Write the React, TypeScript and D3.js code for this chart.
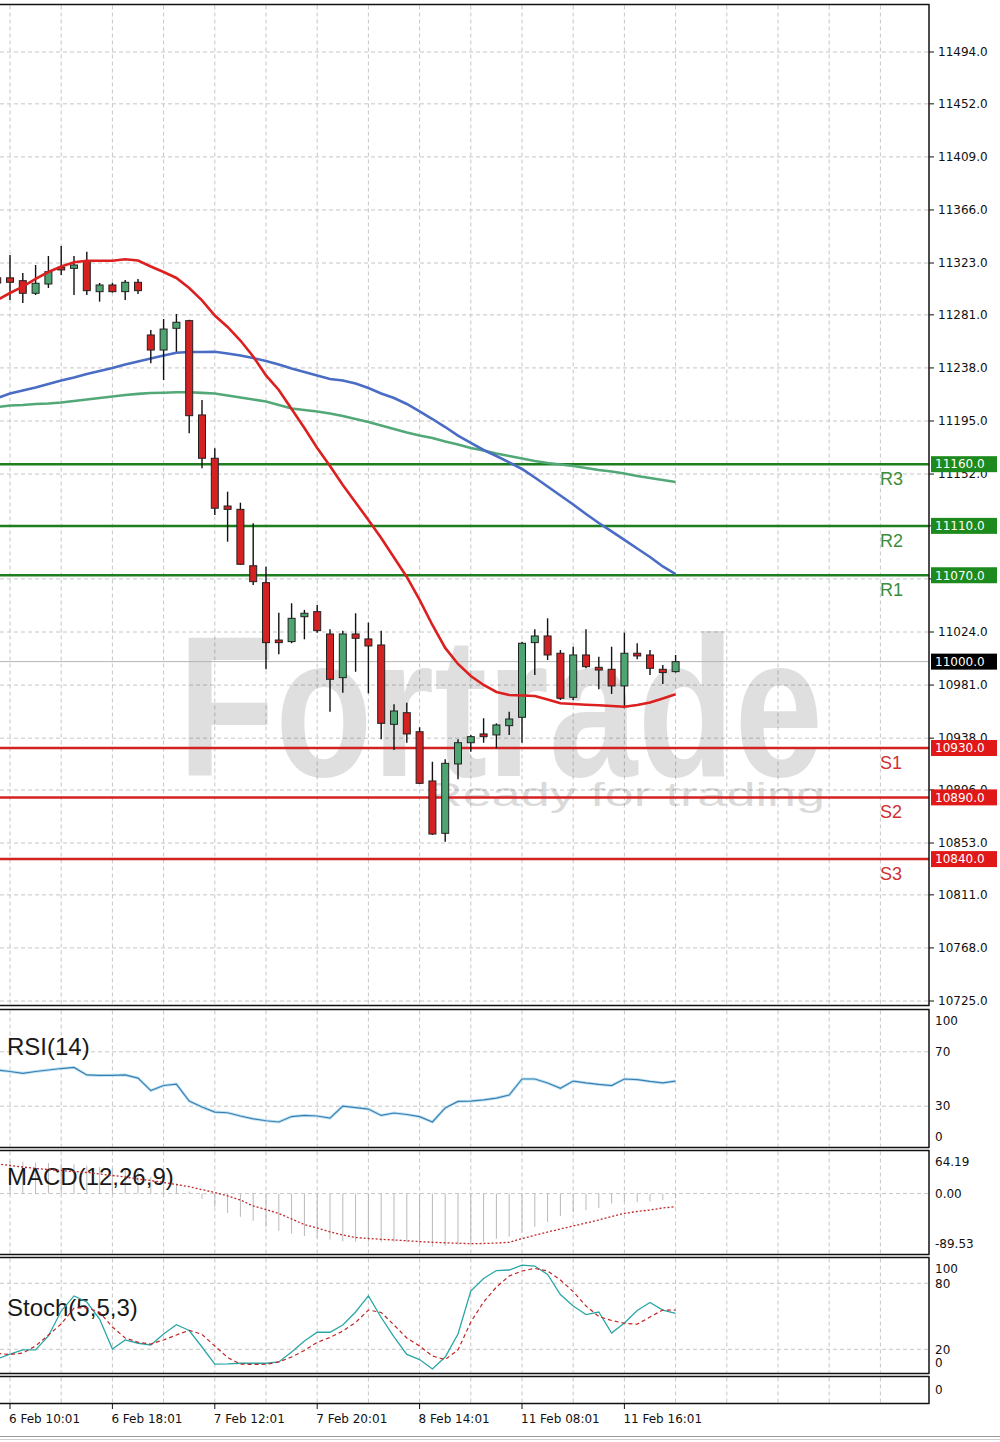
import React from 'react';
import * as d3 from 'd3';

// ---------- DATA ----------
const candleOpen = [11311, 11311, 11308.7, 11298.5, 11306, 11319.5, 11318.7, 11324.9, 11299.8, 11305.2, 11299.8, 11307.4, 11264.7, 11252.5, 11270.1, 11276.3, 11199.9, 11164.8, 11126.1, 11123.4, 11077.7, 11064, 11017.5, 11016.2, 11036.4, 11040.5, 11022.4, 10987, 11022.4, 11018.4, 11013.5, 10949.2, 10958.6, 10943.2, 10903.3, 10860.9, 10917.1, 10934.3, 10941.4, 10940.6, 10948.1, 10954.9, 11015.4, 11020.8, 11006.8, 10971.1, 11005.4, 10995.4, 10993.8, 10980.3, 11006.8, 11005.4, 10993.8, 10991.9];
const candleHigh = [11315.7, 11329.5, 11314.9, 11321.4, 11328.7, 11336.8, 11328.7, 11332.2, 11306.8, 11307, 11309.2, 11310.1, 11268.7, 11277.6, 11281.7, 11277, 11212, 11172.9, 11137.7, 11128.8, 11112.1, 11076.9, 11039.7, 11047.3, 11041.9, 11045.9, 11026.2, 11025.1, 11039.2, 11031.6, 11025.1, 10965.4, 10966.7, 10946.8, 10918.9, 10920.9, 10937.1, 10940.6, 10954.1, 10950, 10959.4, 11016.2, 11026.2, 11035.1, 11009.4, 11012.1, 11026.2, 11004, 11012.1, 11023.5, 11014.9, 11009.4, 10997.3, 11005.4];
const candleLow = [11301.1, 11293, 11290.6, 11297.1, 11302.8, 11313.3, 11297.1, 11297.1, 11291.7, 11299, 11293, 11297.9, 11241.7, 11228.2, 11251.1, 11185, 11156.7, 11118.8, 11097.2, 11078.3, 11062.1, 10993.8, 11006, 11014.9, 11018.1, 11023.5, 10959.4, 10974.8, 10991.8, 10974.3, 10937.1, 10928.4, 10934.3, 10900.8, 10859.5, 10854.1, 10904.7, 10927, 10934.3, 10929.8, 10940.6, 10934.3, 10989.2, 11001.3, 10968.9, 10968.9, 10994.6, 10977.6, 10973.8, 10962.2, 11001.9, 10989.2, 10981.9, 10991.1];
const candleClose = [11306.8, 11307.4, 11298.5, 11306.6, 11316, 11317.4, 11321.4, 11300.6, 11305.2, 11299.8, 11307.4, 11300.6, 11252.5, 11269.5, 11275, 11199.3, 11164.8, 11124.3, 11123.4, 11078.9, 11064.8, 11015.4, 11015.4, 11035.1, 11039.2, 11025.1, 10985.7, 11022.4, 11018.9, 11012.7, 10950, 10960, 10941.4, 10901.4, 10860.3, 10917.6, 10934.3, 10939.2, 10939.2, 10948.7, 10953.5, 11014.9, 11020.8, 11005.4, 10970.3, 11005.4, 10995.9, 10993.2, 10980.3, 11006.8, 11004.6, 10994.6, 10991.1, 11000];

const maFast = [11293.0, 11298.7, 11303.8, 11310.1, 11315.7, 11320.2, 11323.6, 11324.9, 11324.9, 11324.9, 11326.0, 11325.0, 11320.2, 11315.7, 11310.9, 11302.8, 11292.8, 11280.5, 11271.2, 11260.2, 11247.3, 11231.9, 11220.1, 11204.7, 11189.3, 11173.1, 11158.5, 11143.1, 11129.0, 11114.8, 11100.2, 11084.4, 11068.6, 11050.0, 11029.7, 11011.1, 10998.1, 10988.4, 10981.1, 10975.4, 10973.0, 10972.6, 10972.2, 10969.3, 10966.3, 10965.7, 10965.1, 10964.6, 10964.1, 10963.5, 10964.9, 10966.9, 10970.1, 10973.5];
const maMid = [11213.6, 11217.3, 11219.7, 11222.1, 11225.0, 11227.8, 11230.2, 11233.1, 11235.5, 11237.9, 11240.8, 11243.2, 11245.6, 11248.1, 11250.3, 11250.9, 11250.9, 11251.1, 11249.7, 11248.1, 11246.0, 11243.6, 11240.8, 11237.5, 11234.7, 11231.9, 11229.0, 11227.8, 11225.4, 11221.7, 11217.3, 11213.6, 11208.8, 11202.7, 11196.6, 11190.1, 11183.2, 11177.2, 11171.5, 11166.6, 11161.4, 11156.1, 11149.2, 11141.9, 11134.6, 11127.3, 11119.6, 11112.3, 11105.5, 11098.6, 11091.7, 11084.8, 11077.1, 11071.0];
const maSlow = [11206.3, 11207.6, 11208.0, 11208.8, 11209.2, 11210.0, 11211.2, 11212.4, 11213.6, 11214.8, 11216.1, 11217.0, 11217.7, 11217.9, 11218.3, 11218.3, 11217.8, 11217.3, 11215.7, 11214.0, 11212.4, 11210.8, 11208.0, 11205.1, 11203.9, 11202.7, 11201.1, 11199.0, 11196.6, 11194.2, 11191.4, 11188.5, 11185.7, 11183.2, 11181.2, 11178.4, 11176.0, 11173.1, 11171.1, 11168.7, 11166.6, 11164.6, 11162.6, 11161.0, 11159.7, 11158.5, 11156.9, 11155.3, 11154.1, 11152.5, 11150.4, 11148.8, 11147.2, 11145.6];

const rsiValues = [56.6, 55.5, 54.2, 55.5, 56.6, 57.7, 58.5, 53.0, 52.6, 52.7, 53.0, 50.7, 41.5, 45.2, 46.3, 33.8, 29.4, 25.7, 25.2, 22.8, 20.7, 19.3, 18.4, 22.4, 23.2, 22.8, 21.2, 30.1, 29.0, 27.9, 23.2, 25.0, 23.9, 22.3, 18.4, 28.7, 33.5, 33.8, 34.6, 36.0, 38.2, 50.0, 50.0, 47.1, 43.2, 48.5, 47.1, 46.0, 45.2, 50.0, 49.6, 48.2, 47.1, 48.5];

const macdHist = [50, 49, 48, 47, 46, 45, 44, 42, 40, 38, 36, 33, 25, 20, 15, 3, -8, -20, -29, -35, -41, -50, -56, -60, -64, -67, -69.5, -72, -72.5, -72.5, -72.8, -73, -73.4, -77, -80, -79, -77.5, -75, -72.5, -68, -65, -59, -50, -43, -34, -28, -25, -22, -15, -12, -13, -12, -10, -7];
const macdSignal = [44.6, 42.4, 40.1, 37.8, 36.3, 34.8, 33.3, 31.8, 29.5, 27.3, 25.0, 22.0, 19.7, 16.7, 13.7, 10.4, 5.9, 1.7, -3.6, -9.6, -18.7, -24.0, -30.0, -38.3, -46.6, -51.8, -57.6, -62.4, -66.2, -67.7, -68.9, -69.9, -71.1, -72.3, -73.4, -74.2, -74.8, -75.5, -75.2, -74.5, -73.4, -67.7, -62.7, -57.9, -53.4, -48.8, -44.3, -39.8, -34.5, -29.7, -27.0, -24.7, -21.7, -19.7];

const stochMain = [11.2, 15.7, 19.4, 19.4, 32.1, 54.8, 68.5, 63.0, 47.5, 20.3, 28.5, 25.5, 23.9, 33.9, 42.4, 37.1, 22.1, 6.6, 6.8, 7.3, 7.3, 7.3, 8.5, 17.5, 27.5, 35.5, 35.5, 42.1, 53.9, 68.5, 48.9, 31.2, 15.3, 10.7, 2.1, 13.0, 33.9, 73.0, 84.4, 91.6, 92.1, 96.6, 95.7, 88.0, 69.8, 59.4, 51.6, 53.9, 34.8, 43.9, 55.3, 62.5, 55.7, 52.7];
const stochSignal = [16.2, 15.3, 16.6, 23.0, 33.0, 43.0, 57.5, 57.8, 53.6, 40.3, 30.3, 26.4, 24.8, 28.5, 33.0, 37.3, 33.5, 23.0, 12.5, 6.6, 6.2, 6.4, 8.5, 13.0, 18.9, 26.4, 30.7, 36.6, 44.4, 55.7, 53.5, 42.1, 30.3, 23.0, 13.9, 10.7, 19.4, 44.8, 63.0, 76.6, 86.6, 91.2, 93.5, 91.2, 83.0, 72.5, 59.4, 49.8, 46.2, 43.7, 42.8, 49.4, 55.7, 55.7];

const priceTicks = [11494, 11452, 11409, 11366, 11323, 11281, 11238, 11195, 11152, 11110, 11067, 11024, 10981, 10938, 10896, 10853, 10811, 10768, 10725];
const resistanceLevels = [11160, 11110, 11070];
const resistanceNames = ['R3', 'R2', 'R1'];
const supportLevels = [10930, 10890, 10840];
const supportNames = ['S1', 'S2', 'S3'];
const currentPrice = 11000;

const rsiTicks = [100, 70, 30, 0];
const rsiGrid = [70, 30];
const macdTicks = [64.19, 0, -89.53];
const macdTickLabels = ['64.19', '0.00', '-89.53'];
const stochTicks = [100, 80, 20, 0];
const stochGrid = [80, 20];

const timeLabels = ['6 Feb 10:01', '6 Feb 18:01', '7 Feb 12:01', '7 Feb 20:01', '8 Feb 14:01', '11 Feb 08:01', '11 Feb 16:01'];
const timeLabelIndex = [1, 9, 17, 25, 33, 41, 49];

// ---------- CHART ----------
const AX = "'DejaVu Sans', sans-serif";
const LS = "'Liberation Sans', Arial, sans-serif";
const GRID = '#c6c6c6';

export default function App() {
  const W = 1000, H = 1442;
  const R = 929;
  const x = d3.scaleLinear().domain([0, 53]).range([-2.8, 675.6]);
  const yMain = d3.scaleLinear().domain([10725, 11494]).range([1001, 52]);
  const yRsi = d3.scaleLinear().domain([0, 100]).range([1147, 1011]);
  const yMacd = d3.scaleLinear().domain([-89.53, 64.19]).range([1253, 1151]);
  const ySto = d3.scaleLinear().domain([0, 100]).range([1371.3, 1261.3]);

  const panels = [
    { id: 'main', top: 4.5, bottom: 1005.5 },
    { id: 'rsi', top: 1009.5, bottom: 1147.5 },
    { id: 'macd', top: 1150.5, bottom: 1254.5 },
    { id: 'sto', top: 1257.5, bottom: 1373.5 },
    { id: 'ext', top: 1376.5, bottom: 1403.5 },
  ];

  const gridIdx = d3.range(1, 70, 4);
  const lineOf = (scale: any) => d3.line<number>().x((_, i) => x(i)).y((d) => scale(d));

  const clampLbl = (v: number, top: number, bottom: number) => Math.max(top + 11, Math.min(bottom - 11, v));

  const bodyW = 7;

  return (
    <svg width={W} height={H} viewBox={`0 0 ${W} ${H}`} style={{ position: 'absolute', left: 0, top: 0, background: '#fff' }}>
      <defs>
        {panels.map((p) => (
          <clipPath id={`clip-${p.id}`} key={p.id}>
            <rect x={0} y={p.top} width={R} height={p.bottom - p.top} />
          </clipPath>
        ))}
      </defs>
      <rect x={0} y={0} width={W} height={H} fill="#fff" />

      {/* vertical grid in all panels */}
      {panels.map((p) => (
        <g key={`vg-${p.id}`}>
          {gridIdx.map((gi) => (
            <line key={gi} x1={x(gi)} x2={x(gi)} y1={p.top + 1} y2={p.bottom - 1} stroke={GRID} strokeDasharray="4,3" strokeWidth={1} />
          ))}
        </g>
      ))}

      {/* MAIN PANEL */}
      <g clipPath="url(#clip-main)">
        {priceTicks.map((t) => (
          <line key={t} x1={0} x2={R} y1={yMain(t)} y2={yMain(t)} stroke={GRID} strokeDasharray="4,3" />
        ))}
        {/* watermark */}
        <text x={178} y={776} fontFamily={LS} fontWeight="bold" fontSize={200} textLength={645} lengthAdjust="spacingAndGlyphs" fill="#000" opacity={0.12}>Fortrade</text>
        <text x={425} y={806} fontFamily={LS} fontSize={34} textLength={400} lengthAdjust="spacingAndGlyphs" fill="#000" opacity={0.14}>Ready for trading</text>

        <line x1={0} x2={R} y1={yMain(currentPrice)} y2={yMain(currentPrice)} stroke="#b4b4b4" strokeWidth={1} />

        {resistanceLevels.map((lv, i) => (
          <g key={`r${lv}`}>
            <line x1={0} x2={R} y1={yMain(lv)} y2={yMain(lv)} stroke="#1e7e1e" strokeWidth={2.5} />
            <text x={880} y={yMain(lv) + 21} fontFamily={LS} fontSize={18} fill="#3c8c3c">{resistanceNames[i]}</text>
          </g>
        ))}
        {supportLevels.map((lv, i) => (
          <g key={`s${lv}`}>
            <line x1={0} x2={R} y1={yMain(lv)} y2={yMain(lv)} stroke="#d42222" strokeWidth={2.5} />
            <text x={880} y={yMain(lv) + 21} fontFamily={LS} fontSize={18} fill="#d03030">{supportNames[i]}</text>
          </g>
        ))}

        <path d={lineOf(yMain)(maSlow) || ''} fill="none" stroke="#52a877" strokeWidth={2.6} />
        <path d={lineOf(yMain)(maMid) || ''} fill="none" stroke="#4a6cc4" strokeWidth={2.6} />

        {candleOpen.map((o, i) => {
          const c = candleClose[i];
          const up = c >= o;
          const cx = x(i);
          const yT = yMain(Math.max(o, c));
          const yB = yMain(Math.min(o, c));
          const h = Math.max(1.5, yB - yT);
          return (
            <g key={i}>
              <line x1={cx} x2={cx} y1={yMain(candleHigh[i])} y2={yMain(candleLow[i])} stroke="#111" strokeWidth={1.4} />
              <rect x={cx - bodyW / 2} y={yT} width={bodyW} height={h} fill={up ? '#4fa571' : '#d42222'} stroke="#222" strokeWidth={1} />
            </g>
          );
        })}

        <path d={lineOf(yMain)(maFast) || ''} fill="none" stroke="#dc1f1f" strokeWidth={2.6} />
      </g>

      {/* RSI */}
      <g clipPath="url(#clip-rsi)">
        {rsiGrid.map((v) => (
          <line key={v} x1={0} x2={R} y1={yRsi(v)} y2={yRsi(v)} stroke={GRID} strokeDasharray="4,3" />
        ))}
        <path d={lineOf(yRsi)(rsiValues) || ''} fill="none" stroke="#bfe3f5" strokeWidth={3} />
        <path d={lineOf(yRsi)(rsiValues) || ''} fill="none" stroke="#3a7fb0" strokeWidth={1.2} />
        <text x={7} y={1055} fontFamily={LS} fontSize={24} fill="#1a1a1a">RSI(14)</text>
      </g>

      {/* MACD */}
      <g clipPath="url(#clip-macd)">
        <line x1={0} x2={R} y1={yMacd(0)} y2={yMacd(0)} stroke={GRID} strokeDasharray="4,3" />
        {macdHist.map((v, i) => (
          <line key={i} x1={x(i)} x2={x(i)} y1={yMacd(0)} y2={yMacd(v)} stroke="#b9b9b9" strokeWidth={1} />
        ))}
        <text x={7} y={1185} fontFamily={LS} fontSize={24} fill="#1a1a1a">MACD(12,26,9)</text>
        <path d={lineOf(yMacd)(macdSignal) || ''} fill="none" stroke="#c0282a" strokeWidth={1.3} strokeDasharray="2,2" />
      </g>

      {/* STOCH */}
      <g clipPath="url(#clip-sto)">
        {stochGrid.map((v) => (
          <line key={v} x1={0} x2={R} y1={ySto(v)} y2={ySto(v)} stroke={GRID} strokeDasharray="4,3" />
        ))}
        <text x={7} y={1316} fontFamily={LS} fontSize={24} fill="#1a1a1a">Stoch(5,5,3)</text>
        <path d={lineOf(ySto)(stochMain) || ''} fill="none" stroke="#2aa6a6" strokeWidth={1.3} />
        <path d={lineOf(ySto)(stochSignal) || ''} fill="none" stroke="#c02626" strokeWidth={1.2} strokeDasharray="4,3" />
      </g>

      {/* panel frames */}
      {panels.map((p) => (
        <g key={`f-${p.id}`}>
          <line x1={0} x2={R + 0.5} y1={p.top} y2={p.top} stroke="#111" strokeWidth={1.5} />
          <line x1={0} x2={R + 0.5} y1={p.bottom} y2={p.bottom} stroke="#111" strokeWidth={1.5} />
          <line x1={R} x2={R} y1={p.top} y2={p.bottom} stroke="#111" strokeWidth={1.5} />
        </g>
      ))}

      {/* price axis */}
      {priceTicks.map((t) => (
        <g key={`pt${t}`}>
          <line x1={R} x2={R + 5} y1={yMain(t)} y2={yMain(t)} stroke="#111" />
          <text x={938} y={yMain(t)} dy="0.35em" fontFamily={AX} fontSize={12} fill="#111">{t.toFixed(1)}</text>
        </g>
      ))}
      {resistanceLevels.map((lv) => (
        <g key={`rb${lv}`}>
          <rect x={931} y={yMain(lv) - 8} width={66} height={16} fill="#1c8a1c" />
          <text x={935} y={yMain(lv)} dy="0.36em" fontFamily={AX} fontSize={12} fill="#fff">{lv.toFixed(1)}</text>
        </g>
      ))}
      {supportLevels.map((lv) => (
        <g key={`sb${lv}`}>
          <rect x={931} y={yMain(lv) - 8} width={66} height={16} fill="#e01818" />
          <text x={935} y={yMain(lv)} dy="0.36em" fontFamily={AX} fontSize={12} fill="#fff">{lv.toFixed(1)}</text>
        </g>
      ))}
      <rect x={931} y={yMain(currentPrice) - 8} width={66} height={16} fill="#000" />
      <text x={935} y={yMain(currentPrice)} dy="0.36em" fontFamily={AX} fontSize={12} fill="#fff">{currentPrice.toFixed(1)}</text>

      {/* indicator axes */}
      {rsiTicks.map((v) => (
        <text key={`ra${v}`} x={935} y={clampLbl(yRsi(v), 1009.5, 1147.5)} dy="0.35em" fontFamily={AX} fontSize={12} fill="#111">{v}</text>
      ))}
      {macdTicks.map((v, i) => (
        <text key={`ma${i}`} x={935} y={clampLbl(yMacd(v), 1150.5, 1254.5)} dy="0.35em" fontFamily={AX} fontSize={12} fill="#111">{macdTickLabels[i]}</text>
      ))}
      {stochTicks.map((v) => (
        <text key={`sa${v}`} x={935} y={clampLbl(ySto(v), 1257.5, 1373.5)} dy="0.35em" fontFamily={AX} fontSize={12} fill="#111">{v}</text>
      ))}
      <text x={935} y={1390} dy="0.35em" fontFamily={AX} fontSize={12} fill="#111">0</text>

      {/* time axis */}
      {timeLabelIndex.map((ti, i) => (
        <g key={`tl${ti}`}>
          <line x1={x(ti)} x2={x(ti)} y1={1404} y2={1409} stroke="#111" />
          <text x={x(ti) - 1} y={1423} fontFamily={AX} fontSize={12} fill="#111">{timeLabels[i]}</text>
        </g>
      ))}

      <line x1={0} x2={W} y1={1436.5} y2={1436.5} stroke="#9a9a9a" strokeWidth={1} />
      <line x1={0} x2={W} y1={1439.5} y2={1439.5} stroke="#d0d0d0" strokeWidth={1} />
    </svg>
  );
}
